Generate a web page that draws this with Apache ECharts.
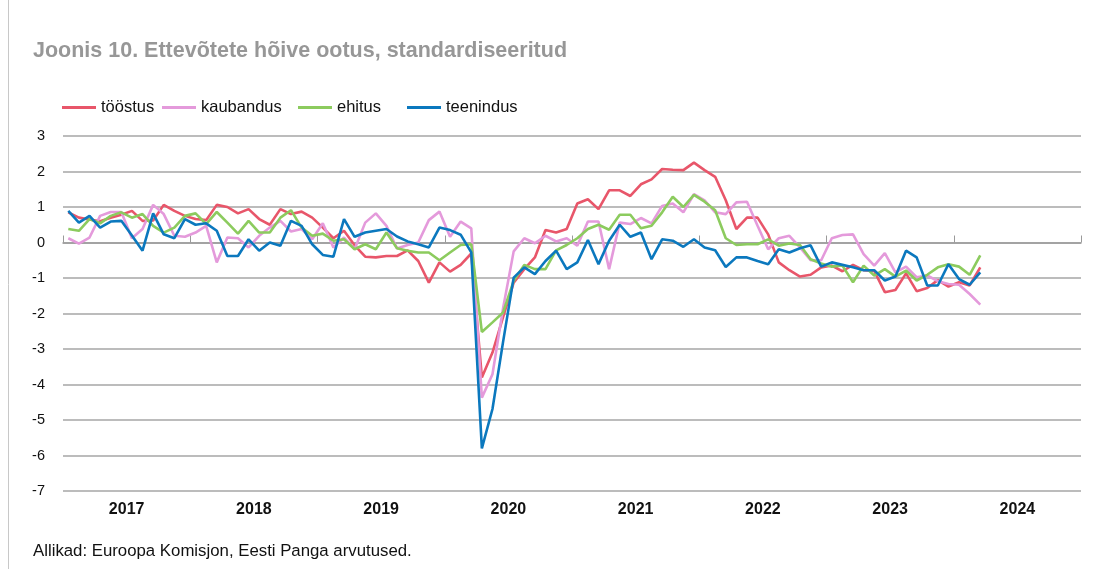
<!DOCTYPE html>
<html><head><meta charset="utf-8">
<script src="https://cdn.jsdelivr.net/npm/echarts@6/dist/echarts.min.js"></script>
<style>html,body{margin:0;padding:0;background:#fff}#c{width:1094px;height:569px}</style>
</head><body><div id="c"></div>
<script>
// Monthly data, Jan 2017 .. Mar 2024
const years = ['2017','2018','2019','2020','2021','2022','2023','2024'];
const seriesNames = ['tööstus','kaubandus','ehitus','teenindus'];

const toostus = [
 0.85,0.70,0.65,0.60,0.70,0.78,0.89,0.61,0.62,1.06,0.89,0.75,
 0.66,0.63,1.06,1.00,0.82,0.94,0.66,0.50,0.94,0.80,0.87,0.70,
 0.42,0.12,0.33,-0.08,-0.40,-0.42,-0.38,-0.38,-0.22,-0.52,-1.13,-0.56,
 -0.82,-0.63,-0.31,-3.80,-3.10,-2.10,-1.13,-0.75,-0.42,0.35,0.28,0.38,
 1.10,1.22,0.94,1.47,1.47,1.31,1.64,1.78,2.07,2.05,2.04,2.25,
 2.04,1.85,1.19,0.38,0.70,0.70,0.23,-0.56,-0.78,-0.96,-0.91,-0.70,
 -0.65,-0.81,-0.63,-0.78,-0.80,-1.40,-1.34,-0.87,-1.37,-1.28,-1.06,-1.24,
 -1.12,-1.21,-0.70
];
const kaubandus = [
 0.12,-0.03,0.14,0.75,0.86,0.86,0.12,0.38,1.06,0.80,0.19,0.16,
 0.28,0.47,-0.56,0.14,0.12,-0.14,0.19,0.42,0.61,0.31,0.38,0.09,
 0.54,-0.14,0.14,-0.19,0.56,0.82,0.47,-0.17,-0.07,0.00,0.63,0.87,
 0.16,0.59,0.40,-4.37,-3.71,-1.85,-0.25,0.12,-0.02,0.19,0.03,0.12,
 -0.09,0.59,0.59,-0.75,0.56,0.52,0.69,0.54,1.03,1.10,0.85,1.36,
 1.19,0.85,0.80,1.13,1.15,0.47,-0.19,0.12,0.19,-0.14,-0.50,-0.50,
 0.12,0.21,0.23,-0.33,-0.65,-0.30,-0.84,-0.68,-0.98,-0.93,-1.09,-1.17,
 -1.19,-1.45,-1.75
];
const ehitus = [
 0.38,0.33,0.66,0.54,0.75,0.85,0.70,0.80,0.47,0.28,0.42,0.75,
 0.82,0.52,0.86,0.56,0.25,0.61,0.28,0.28,0.70,0.91,0.42,0.19,
 0.25,0.05,0.09,-0.19,-0.05,-0.19,0.28,-0.16,-0.23,-0.28,-0.28,-0.50,
 -0.28,-0.07,-0.05,-2.52,-2.25,-1.97,-1.08,-0.63,-0.75,-0.75,-0.22,-0.07,
 0.12,0.38,0.50,0.36,0.78,0.78,0.40,0.47,0.85,1.29,1.00,1.34,
 1.15,0.91,0.12,-0.07,-0.05,-0.05,0.09,-0.09,-0.03,-0.07,-0.47,-0.59,
 -0.68,-0.65,-1.12,-0.65,-0.93,-0.75,-0.96,-0.79,-1.07,-0.91,-0.70,-0.61,
 -0.68,-0.91,-0.36
];
const teenindus = [
 0.89,0.56,0.75,0.42,0.59,0.61,0.20,-0.23,0.82,0.23,0.12,0.66,
 0.50,0.54,0.33,-0.38,-0.38,0.09,-0.23,0.00,-0.09,0.61,0.47,-0.05,
 -0.35,-0.40,0.66,0.16,0.28,0.33,0.38,0.17,0.03,-0.05,-0.14,0.42,
 0.35,0.22,-0.28,-5.80,-4.69,-2.80,-0.99,-0.70,-0.89,-0.52,-0.23,-0.75,
 -0.56,0.07,-0.61,0.05,0.50,0.16,0.28,-0.47,0.09,0.05,-0.12,0.09,
 -0.14,-0.22,-0.69,-0.42,-0.42,-0.52,-0.61,-0.19,-0.28,-0.16,-0.08,-0.68,
 -0.56,-0.63,-0.70,-0.78,-0.78,-1.07,-0.96,-0.23,-0.42,-1.21,-1.21,-0.61,
 -1.03,-1.19,-0.84
];
const colors = ['#E8566A','#E49ADB','#8CCB5E','#0B78BE'];
const yMin = -7, yMax = 3;

const chart = echarts.init(document.getElementById('c'), null, {renderer:'canvas'});
const allData = [toostus, kaubandus, ehitus, teenindus];
const font = 'Liberation Sans, Arial, Helvetica, sans-serif';
const legendLeft = [62, 162, 298, 407];

const option = {
  animation: false,
  backgroundColor: '#fff',
  textStyle: {fontFamily: font},
  title: {
    text: 'Joonis 10. Ettevõtete hõive ootus, standardiseeritud',
    left: 33, top: 40, padding: 0,
    textStyle: {fontFamily: font, fontSize: 21.5, fontWeight: 'bold', color: '#979797'}
  },
  legend: seriesNames.map((n, i) => ({
    data: [n], left: legendLeft[i], top: 99, padding: 0,
    icon: 'rect', itemWidth: 34, itemHeight: 3, itemGap: 6,
    textStyle: {fontFamily: font, fontSize: 16.5, color: '#111'}
  })),
  grid: {left: 63, right: 13, top: 136, bottom: 78},
  xAxis: [
    {type: 'value', min: 0, max: 96, interval: 12, position: 'bottom',
     axisLine: {show: true, lineStyle: {color: '#9a9a9a', width: 1.5}},
     axisTick: {show: true, inside: true, length: 7, lineStyle: {color: '#9a9a9a', width: 1}},
     axisLabel: {show: false}, splitLine: {show: false}},
    {type: 'category', data: years, boundaryGap: true, position: 'bottom',
     axisLine: {show: false}, axisTick: {show: false}, splitLine: {show: false},
     axisLabel: {show: true, margin: 11, interval: 0, fontFamily: font, fontSize: 16, fontWeight: 'bold', color: '#111'}}
  ],
  yAxis: {
    type: 'value', min: yMin, max: yMax, interval: 1,
    axisLine: {show: false}, axisTick: {show: false},
    axisLabel: {margin: 18, fontFamily: font, fontSize: 14.5, color: '#111'},
    splitLine: {show: true, lineStyle: {color: '#a6a6a6', width: 1.5}}
  },
  series: seriesNames.map((n, i) => ({
    name: n, type: 'line', xAxisIndex: 0,
    data: allData[i].map((v, j) => [j + 0.5, v]),
    symbol: 'none', smooth: false,
    lineStyle: {color: colors[i], width: 2.6},
    itemStyle: {color: colors[i]},
    z: 2 + i
  })),
  graphic: [
    {type: 'line', shape: {x1: 8.5, y1: 0, x2: 8.5, y2: 569}, style: {stroke: '#c8c8c8', lineWidth: 1}},
    {type: 'text', left: 33, top: 543,
     style: {text: 'Allikad: Euroopa Komisjon, Eesti Panga arvutused.', fontFamily: font, fontSize: 16.8, fill: '#111'}}
  ]
};
chart.setOption(option);
</script>
</body></html>
